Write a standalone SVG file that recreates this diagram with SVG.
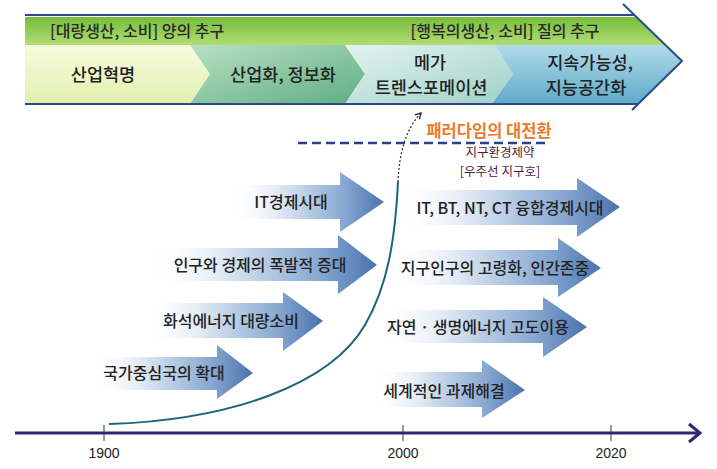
<svg xmlns="http://www.w3.org/2000/svg" width="717" height="469" viewBox="0 0 717 469">
<defs>
<linearGradient id="gGreen" x1="0" y1="0" x2="0" y2="1"><stop offset="0" stop-color="#74bd3a"/><stop offset="1" stop-color="#b2dc74"/></linearGradient>
<linearGradient id="gS1" x1="0" y1="0" x2="0" y2="1"><stop offset="0" stop-color="#f7fbdf"/><stop offset="1" stop-color="#e2efad"/></linearGradient>
<linearGradient id="gS2" x1="0" y1="0" x2="1" y2="1"><stop offset="0" stop-color="#b8e0c2"/><stop offset="1" stop-color="#5eae82"/></linearGradient>
<linearGradient id="gS3" x1="0" y1="0" x2="1" y2="1"><stop offset="0" stop-color="#e4f3ef"/><stop offset="1" stop-color="#9fd0c8"/></linearGradient>
<linearGradient id="gS4" x1="0" y1="0" x2="0" y2="1"><stop offset="0" stop-color="#b0dbe8"/><stop offset="1" stop-color="#5fa9ca"/></linearGradient>
<linearGradient id="gArr" x1="0" y1="0" x2="1" y2="0"><stop offset="0" stop-color="#ffffff" stop-opacity="0"/><stop offset="0.3" stop-color="#e3ebf5"/><stop offset="0.75" stop-color="#86a7d1"/><stop offset="1" stop-color="#4a73ad"/></linearGradient>
<marker id="mOpen" viewBox="0 0 10 10" refX="8" refY="5" markerWidth="8" markerHeight="8" orient="auto" markerUnits="userSpaceOnUse"><path d="M1,1 L8,5 L1,9" fill="none" stroke="#222" stroke-width="1.6"/></marker>
</defs>
<style>
.kr{font-family:"Noto Sans CJK KR","Noto Sans",sans-serif;fill:#222;font-weight:500}
.band{font-size:17.5px;text-anchor:middle}
.gb{font-size:16px;fill:#2a2a2a}
.al{font-size:16px;text-anchor:middle}
.yr{font-family:"Liberation Sans",Arial,sans-serif;font-size:14px;fill:#222;text-anchor:middle}
.arr{fill:url(#gArr)}
.nav{stroke:#2c4a8a;stroke-width:2;fill:none}
.note{font-family:"Noto Sans CJK KR","Noto Sans",sans-serif;font-size:12.5px;fill:#4a1f3a;text-anchor:middle}
</style>
<rect width="717" height="469" fill="#ffffff"/>

<g id="band">
<polygon points="25,17 636,17 665,45 25,45" fill="url(#gGreen)"/>
<polygon points="25,45 190,45 210,74 190,104 25,104" fill="url(#gS1)"/>
<polygon points="190,45 345,45 365,74 345,104 190,104 210,74" fill="url(#gS2)"/>
<polygon points="345,45 495,45 513,74 492,104 345,104 365,74" fill="url(#gS3)"/>
<polygon points="495,45 665,45 682,61 638,104 492,104 513,74" fill="url(#gS4)"/>
<polyline class="nav" points="25,15 634,15"/>
<polyline class="nav" points="25,104 638,104"/>
<polyline class="nav" points="623,4 682,61 632,110"/>
<text class="kr gb" x="50" y="37">[대량생산, 소비] 양의 추구</text>
<text class="kr gb" x="505" y="37" text-anchor="middle">[행복의생산, 소비] 질의 추구</text>
<text class="kr band" x="103" y="81">산업혁명</text>
<text class="kr band" x="283" y="81">산업화, 정보화</text>
<text class="kr band" x="430" y="69">메가</text>
<text class="kr band" x="431" y="94">트렌스포메이션</text>
<text class="kr band" x="590" y="69">지속가능성,</text>
<text class="kr band" x="586" y="94">지능공간화</text>
</g>

<g id="a1"><polygon class="arr" points="230,185 340,185 340,172 384,202 340,232 340,219 230,219"/><text class="kr al" x="291" y="208">IT경제시대</text></g>
<g id="a2"><polygon class="arr" points="150,248 338,248 338,235 377,265 338,294 338,281 150,281"/><text class="kr al" x="260" y="271">인구와 경제의 폭발적 증대</text></g>
<g id="a3"><polygon class="arr" points="145,303 283,303 283,292 323,321 283,351 283,338 145,338"/><text class="kr al" x="231" y="327">화석에너지 대량소비</text></g>
<g id="a4"><polygon class="arr" points="90,357 217,357 217,345 253,373 217,399 217,390 90,390"/><text class="kr al" x="164" y="379">국가중심국의 확대</text></g>
<g id="a5"><polygon class="arr" points="395,190 577,190 577,178 620,207 577,237 577,225 395,225"/><text class="kr al" x="510" y="214">IT, BT, NT, CT 융합경제시대</text></g>
<g id="a6"><polygon class="arr" points="390,250 558,250 558,238 601,268 558,297 558,285 390,285"/><text class="kr al" x="495" y="274">지구인구의 고령화, 인간존중</text></g>
<g id="a7"><polygon class="arr" points="378,310 543,310 543,297 587,327 543,357 543,343 378,343"/><text class="kr al" x="478" y="333">자연 · 생명에너지 고도이용</text></g>
<g id="a8"><polygon class="arr" points="372,372 482,372 482,360 525,390 482,418 482,407 372,407"/><text class="kr al" x="444" y="397">세계적인 과제해결</text></g>

<g id="paradigm">
<line x1="298" y1="143" x2="548" y2="143" stroke="#2b3f8a" stroke-width="2.5" stroke-dasharray="9,5"/>
<text x="489" y="137" text-anchor="middle" style="font-family:'Noto Sans CJK KR','Noto Sans',sans-serif;font-size:16.5px;font-weight:bold;fill:#ec7a2c">패러다임의 대전환</text>
<text class="note" x="500" y="157">지구환경제약</text>
<text class="note" x="500" y="176">[우주선 지구호]</text>
</g>

<g id="connectors">
<path d="M109,424 C230,420 330,385 365,325 C388,285 395,240 398,182" fill="none" stroke="#1d6678" stroke-width="2"/>
<path d="M398,182 C399,155 405,130 421,113" fill="none" stroke="#333" stroke-width="1.3" stroke-dasharray="2,2" marker-end="url(#mOpen)"/>
</g>

<g id="timeline">
<line x1="15" y1="433" x2="699" y2="433" stroke="#2b2a6e" stroke-width="3"/>
<polyline points="689,424 700,433 689,442" fill="none" stroke="#2b2a6e" stroke-width="3"/>
<line x1="104" y1="425" x2="104" y2="441" stroke="#333" stroke-width="1"/>
<line x1="403" y1="425" x2="403" y2="441" stroke="#333" stroke-width="1"/>
<line x1="611" y1="425" x2="611" y2="441" stroke="#333" stroke-width="1"/>
<text class="yr" x="104" y="458">1900</text>
<text class="yr" x="403" y="458">2000</text>
<text class="yr" x="611" y="458">2020</text>
</g>
</svg>
